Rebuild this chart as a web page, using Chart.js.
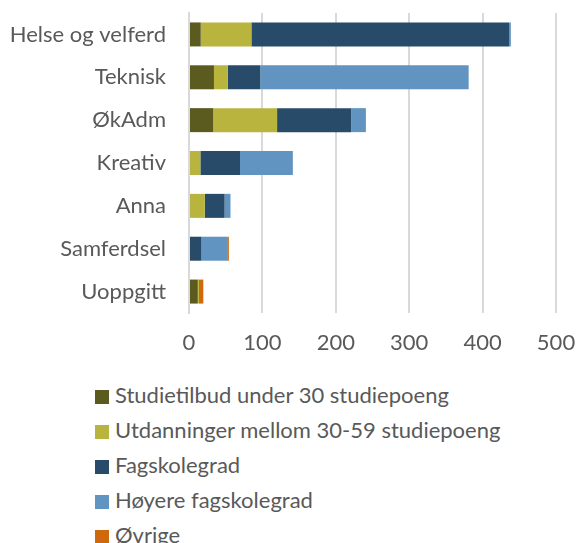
<!DOCTYPE html>
<html>
	<head>
		<meta charset="UTF-8" />
		<title>Studietilbud</title>
		<script src="https://cdn.jsdelivr.net/npm/chart.js"></script>
		<style>
			body{
				margin: 0;
				background-color: #ffffff;
				font-family: Lato, sans-serif;
			}
			.wrap{
				position: relative;
				width: 577px;
				height: 543px;
			}
			.chart{
				position: absolute;
				left: 0;
				top: 0;
				width: 577px;
				height: 365px;
			}
			.legend{
				position: absolute;
				left: 95px;
				top: 380px;
			}
			.item{
				height: 35px;
				line-height: 30px;
				font-size: 22px;
				color: #595959;
				white-space: nowrap;
			}
			.box{
				display: inline-block;
				width: 14px;
				height: 14px;
				margin-right: 6px;
				vertical-align: -1px;
			}
		</style>
	</head>
	<body>
		<div class="wrap">
			<div class="chart"><canvas id="barChart"></canvas></div>
			<div class="legend" id="legend"></div>
		</div>

		<script>
			// kategorier og verdier lest av figuren
			var categories = ['Helse og velferd', 'Teknisk', 'ØkAdm', 'Kreativ', 'Anna', 'Samferdsel', 'Uoppgitt'];
			var seriesNames = ['Studietilbud under 30 studiepoeng', 'Utdanninger mellom 30-59 studiepoeng', 'Fagskolegrad', 'Høyere fagskolegrad', 'Øvrige'];
			var under30 = [16, 34, 33, 1.5, 1.5, 0, 12];
			var mellom30_59 = [69, 19, 87, 14, 20, 0, 1.5];
			var fagskolegrad = [351, 44, 101, 54, 27, 17, 0];
			var hoyereFagskolegrad = [2.5, 284, 20, 72, 8, 35, 0];
			var ovrige = [0, 0, 0, 0, 0, 2.3, 6];
			var xTicks = [0, 100, 200, 300, 400, 500];

			var colors = ['#5b5b1f', '#b8b43e', '#284b69', '#6194c0', '#d0680c'];
			var values = [under30, mellom30_59, fagskolegrad, hoyereFagskolegrad, ovrige];

			var datasets = [];
			for (var i = 0; i < values.length; i++) {
				datasets.push({
					label: seriesNames[i],
					data: values[i],
					backgroundColor: colors[i],
					borderWidth: 0,
					barPercentage: 0.56,
					categoryPercentage: 1
				});
			}

			var textColor = '#595959';
			var gridColor = '#d9d9d9';

			new Chart(document.getElementById('barChart'), {
				type: 'bar',
				data: { labels: categories, datasets: datasets },
				options: {
					indexAxis: 'y',
					responsive: true,
					maintainAspectRatio: false,
					animation: false,
					layout: { padding: { top: 13, right: 21, left: 0, bottom: 0 } },
					plugins: {
						legend: { display: false },
						tooltip: { enabled: false }
					},
					scales: {
						x: {
							stacked: true,
							min: 0,
							max: 500,
							afterBuildTicks: function (scale) {
								scale.ticks = xTicks.map(function (v) { return { value: v }; });
							},
							afterFit: function (scale) {
								scale.height = 52;
								scale.paddingLeft = 0;
								scale.paddingRight = 0;
							},
							grid: { color: gridColor, lineWidth: 2, drawTicks: false },
							border: { display: false },
							ticks: { color: textColor, padding: 17, font: { family: 'Lato', size: 22 } }
						},
						y: {
							stacked: true,
							afterFit: function (scale) {
								scale.width = 189;
								scale.paddingTop = 0;
								scale.paddingBottom = 0;
							},
							grid: { display: false, drawTicks: false },
							border: { display: true, color: gridColor, width: 2 },
							ticks: { color: textColor, padding: 23, font: { family: 'Lato', size: 22 } }
						}
					}
				}
			});

			// forklaring under figuren
			var legend = document.getElementById('legend');
			for (var j = 0; j < seriesNames.length; j++) {
				var row = document.createElement('div');
				row.className = 'item';
				row.innerHTML = '<span class="box" style="background:' + colors[j] + '"></span>' + seriesNames[j];
				legend.appendChild(row);
			}
		</script>
	</body>
</html>
